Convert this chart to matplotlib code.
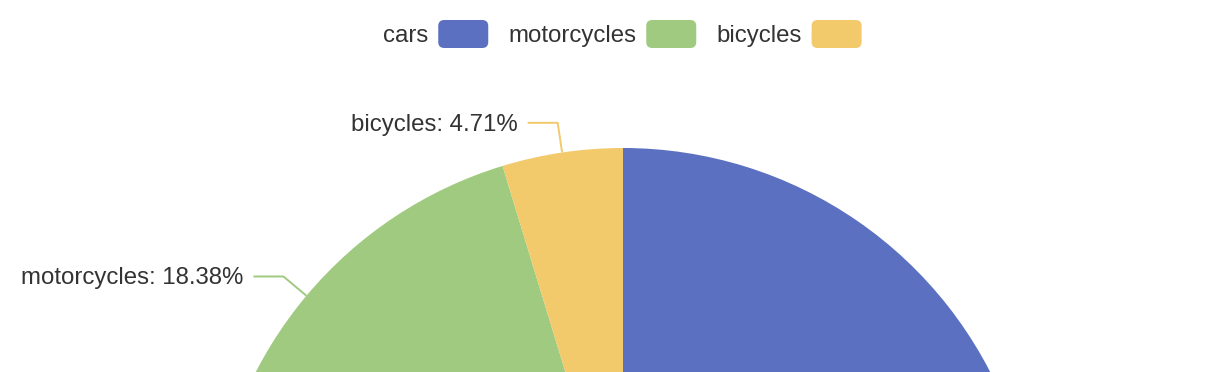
import numpy as np
import matplotlib
matplotlib.use("Agg")
import matplotlib.pyplot as plt
from matplotlib.patches import FancyBboxPatch

categories = ["cars", "motorcycles", "bicycles"]
values = [76.91, 18.38, 4.71]
colors = ["#5b70c0", "#9fca7f", "#f2c96b"]

plt.rcParams['font.family'] = ['Liberation Sans', 'DejaVu Sans']

W, H = 1216, 372
fig = plt.figure(figsize=(W / 100, H / 100), dpi=100)
ax = fig.add_axes([0, 0, 1, 1])

cx, cy, R = 623, H - 561, 413
ax.pie(values, colors=colors, startangle=90, counterclock=False,
       center=(cx, cy), radius=R, wedgeprops=dict(linewidth=0))
ax.set_xlim(0, W)
ax.set_ylim(0, H)
ax.set_aspect('equal')
ax.axis('off')

fs = 24 * 72 / 100  # 24 px
txt_color = "#333333"
dy_txt = -2  # small baseline correction

# pie labels with leader lines (only those that fall inside the canvas)
total = sum(values)
cum = 0.0
for cat, v, col in zip(categories, values, colors):
    frac_mid = (cum + v / 2) / total
    cum += v
    th = np.deg2rad(90 - 360 * frac_mid)
    ux, uy = np.cos(th), np.sin(th)
    p0 = (cx + R * ux, cy + R * uy)
    p1 = (cx + (R + 30) * ux, cy + (R + 30) * uy)
    sgn = -1 if ux < 0 else 1
    p2 = (p1[0] + sgn * 30, p1[1])
    if p2[1] < 15:
        continue
    ax.plot([p0[0], p1[0], p2[0]], [p0[1], p1[1], p2[1]], color=col,
            lw=1.4, solid_capstyle='butt', clip_on=True)
    ax.text(p2[0] + sgn * 10, p2[1] + dy_txt, f"{cat}: {100 * v / total:.2f}%",
            ha='right' if sgn < 0 else 'left', va='center', fontsize=fs,
            color=txt_color, clip_on=True)

# legend (text left of rounded icon)
fig.canvas.draw()
renderer = fig.canvas.get_renderer()
x = 383
ly = H - 34
for cat, col in zip(categories, colors):
    t = ax.text(x, ly + dy_txt, cat, ha='left', va='center', fontsize=fs,
                color=txt_color)
    bb = t.get_window_extent(renderer=renderer)
    x += bb.width + 10
    box = FancyBboxPatch((x + 6, ly - 14 + 6), 50 - 12, 28 - 12,
                         boxstyle="round,pad=6", facecolor=col, edgecolor='none')
    ax.add_patch(box)
    x += 50 + 20

fig.savefig("out.png", dpi=100)
